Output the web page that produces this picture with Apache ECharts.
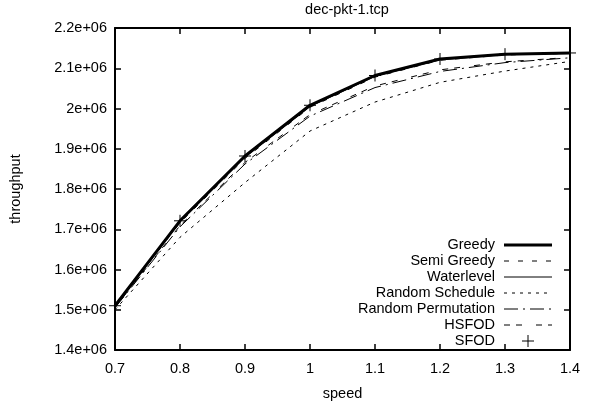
<!DOCTYPE html>
<html><head><meta charset="utf-8">
<script src="https://cdn.jsdelivr.net/npm/echarts@6/dist/echarts.min.js"></script>
<style>html,body{margin:0;padding:0;background:#fff}#c{width:593px;height:406px}</style>
</head><body><div id="c"></div>
<script>
const categories = ['0.7','0.8','0.9','1','1.1','1.2','1.3','1.4'];
const greedy            = [1510000,1721000,1882000,2008000,2082000,2123000,2135000,2138000];
const semiGreedy        = [1508000,1716000,1876000,2003000,2078000,2120000,2133000,2137000];
const waterlevel        = [1509000,1718000,1879000,2005000,2080000,2121000,2134000,2137000];
const randomSchedule    = [1500000,1680000,1816000,1944000,2016000,2065000,2093000,2117000];
const randomPermutation = [1505000,1706000,1862000,1981000,2052000,2092000,2114000,2126000];
const hsfod             = [1506000,1709000,1866000,1985000,2056000,2096000,2116000,2127000];
const sfod              = [1510000,1721000,1882000,2008000,2082000,2123000,2135000,2138000];
const legendNames = ['Greedy','Semi Greedy','Waterlevel','Random Schedule','Random Permutation','HSFOD','SFOD'];

const FONT = 'Liberation Sans, Arial, sans-serif';
const FS = 14.5;
const styles = {
  'Greedy': {width: 3, type: 'solid'},
  'Semi Greedy': {width: 1, type: [5, 9]},
  'Waterlevel': {width: 1, type: 'solid'},
  'Random Schedule': {width: 1, type: [3, 5]},
  'Random Permutation': {width: 1, type: [14, 5, 2, 5]},
  'HSFOD': {width: 1, type: [6, 6, 6, 14]},
};
const dataMap = {
  'Greedy': greedy, 'Semi Greedy': semiGreedy, 'Waterlevel': waterlevel,
  'Random Schedule': randomSchedule, 'Random Permutation': randomPermutation,
  'HSFOD': hsfod, 'SFOD': sfod
};
const PLUS = 'path://M0,6L12,6M6,0L6,12';

const series = legendNames.map((n, i) => {
  if (n === 'SFOD') {
    return {name: n, type: 'line', data: dataMap[n], symbol: PLUS, symbolSize: 12,
      showSymbol: true, lineStyle: {opacity: 0, width: 0},
      itemStyle: {color: 'rgba(0,0,0,0)', borderColor: '#000', borderWidth: 1},
      z: 10, animation: false};
  }
  return {name: n, type: 'line', data: dataMap[n], symbol: 'none',
    lineStyle: {color: '#000', width: styles[n].width, type: styles[n].type},
    z: n === 'Greedy' ? 9 : 3, animation: false};
});

// legend drawn as graphics (right-aligned text, sample to the right)
const graphic = [];
const lx = 495, ly0 = 245, dy = 16;
legendNames.forEach((n, i) => {
  const y = ly0 + i * dy;
  graphic.push({type: 'text', x: lx, y: y,
    style: {text: n, font: FS + 'px ' + FONT, fill: '#000', textAlign: 'right', textVerticalAlign: 'middle'}});
  if (n === 'SFOD') {
    graphic.push({type: 'line', shape: {x1: 522, y1: y, x2: 534, y2: y}, style: {stroke: '#000', lineWidth: 1}});
    graphic.push({type: 'line', shape: {x1: 528, y1: y - 6, x2: 528, y2: y + 6}, style: {stroke: '#000', lineWidth: 1}});
  } else {
    const s = styles[n];
    graphic.push({type: 'line', shape: {x1: 504, y1: y, x2: 552, y2: y},
      style: {stroke: '#000', lineWidth: s.width, lineDash: Array.isArray(s.type) ? s.type : null}});
  }
});

const fmtY = v => (+(v / 1e6).toFixed(2)) + 'e+06';
const chart = echarts.init(document.getElementById('c'), null, {renderer: 'canvas'});
chart.setOption({
  animation: false,
  backgroundColor: '#fff',
  textStyle: {fontFamily: FONT},
  title: {text: 'dec-pkt-1.tcp', left: 342, top: -3, textAlign: 'center',
    textStyle: {fontFamily: FONT, fontSize: FS, fontWeight: 'normal', color: '#000'}},
  grid: {left: 114, right: 23, top: 28, bottom: 53},
  xAxis: [{
    type: 'category', data: categories, boundaryGap: false, position: 'bottom',
    axisLine: {lineStyle: {color: '#000', width: 2}},
    axisTick: {inside: true, length: 6, lineStyle: {color: '#000', width: 1.5}},
    axisLabel: {color: '#000', fontSize: FS, fontFamily: FONT, margin: 11},
    splitLine: {show: false},
    name: 'speed', nameLocation: 'middle', nameGap: 36,
    nameTextStyle: {color: '#000', fontSize: FS, fontFamily: FONT}
  }, {
    type: 'category', data: categories, boundaryGap: false, position: 'top',
    axisLine: {lineStyle: {color: '#000', width: 2}},
    axisTick: {inside: true, length: 6, lineStyle: {color: '#000', width: 1.5}},
    axisLabel: {show: false}, splitLine: {show: false}
  }],
  yAxis: [{
    type: 'value', min: 1400000, max: 2200000, interval: 100000, position: 'left',
    axisLine: {show: true, lineStyle: {color: '#000', width: 2}},
    axisTick: {show: true, inside: true, length: 6, lineStyle: {color: '#000', width: 1.5}},
    axisLabel: {color: '#000', fontSize: FS, fontFamily: FONT, formatter: fmtY, margin: 8},
    splitLine: {show: false},
    name: 'throughput', nameLocation: 'middle', nameGap: 92, nameRotate: 90,
    nameTextStyle: {color: '#000', fontSize: FS, fontFamily: FONT}
  }, {
    type: 'value', min: 1400000, max: 2200000, interval: 100000, position: 'right',
    axisLine: {show: true, lineStyle: {color: '#000', width: 2}},
    axisTick: {show: true, inside: true, length: 6, lineStyle: {color: '#000', width: 1.5}},
    axisLabel: {show: false}, splitLine: {show: false}
  }],
  series: series,
  graphic: graphic
});
</script></body></html>
